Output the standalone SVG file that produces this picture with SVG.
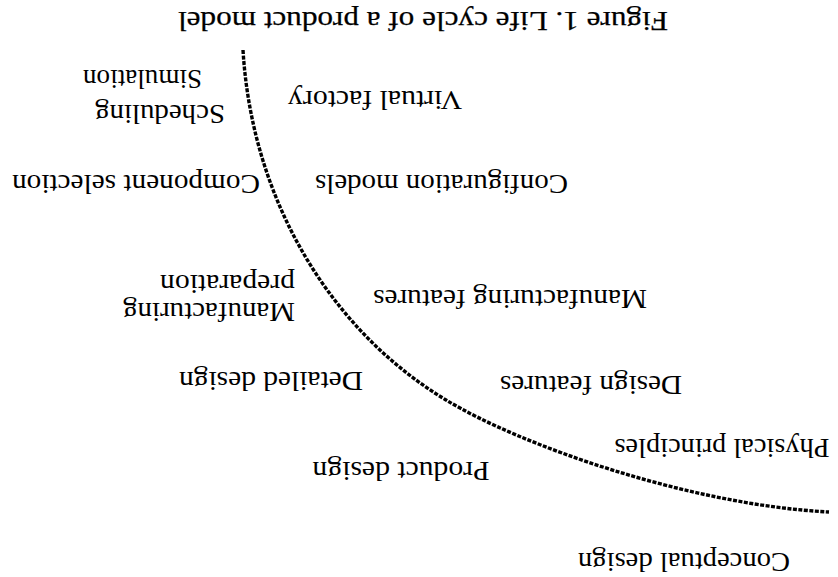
<svg xmlns="http://www.w3.org/2000/svg" width="838" height="577" viewBox="0 0 838 577">
<style>
text{font-family:"Liberation Serif","Times New Roman",serif;font-size:27px;fill:#000}
.t{font-size:27px;stroke:#000;stroke-width:0.25}
.m{text-anchor:middle}
.s{text-anchor:start}
.curve{fill:none;stroke:#000;stroke-width:3.4;stroke-dasharray:4 1.5}
</style>
<rect width="838" height="577" fill="#fff"/>
<g id="title"><text class="t m" x="423" y="12" textLength="490" lengthAdjust="spacingAndGlyphs" transform="rotate(180 423 12)">Figure 1. Life cycle of a product model</text></g>
<g id="connectors"><path class="curve" d="M243,50 C252,200 330,330 446,400 C520,445 690,505 829,512"/></g>
<g id="simulation"><text class="m" x="142.5" y="70" textLength="119" lengthAdjust="spacingAndGlyphs" transform="rotate(180 142.5 70)">Simulation</text></g>
<g id="scheduling"><text class="m" x="160" y="105" textLength="130" lengthAdjust="spacingAndGlyphs" transform="rotate(180 160 105)">Scheduling</text></g>
<g id="virtual-factory"><text class="m" x="375" y="91" textLength="174" lengthAdjust="spacingAndGlyphs" transform="rotate(180 375 91)">Virtual factory</text></g>
<g id="component-selection"><text class="m" x="136" y="175" textLength="248" lengthAdjust="spacingAndGlyphs" transform="rotate(180 136 175)">Component selection</text></g>
<g id="configuration-models"><text class="m" x="441.5" y="175" textLength="253" lengthAdjust="spacingAndGlyphs" transform="rotate(180 441.5 175)">Configuration models</text></g>
<g id="manufacturing-preparation">
<text class="s" x="295" y="275" textLength="135" lengthAdjust="spacingAndGlyphs" transform="rotate(180 295 275)">preparation</text>
<text class="s" x="295" y="303" textLength="172" lengthAdjust="spacingAndGlyphs" transform="rotate(180 295 303)">Manufacturing</text>
</g>
<g id="manufacturing-features"><text class="m" x="510" y="290" textLength="274" lengthAdjust="spacingAndGlyphs" transform="rotate(180 510 290)">Manufacturing features</text></g>
<g id="detailed-design"><text class="m" x="271" y="372" textLength="184" lengthAdjust="spacingAndGlyphs" transform="rotate(180 271 372)">Detailed design</text></g>
<g id="design-features"><text class="m" x="591" y="376" textLength="182" lengthAdjust="spacingAndGlyphs" transform="rotate(180 591 376)">Design features</text></g>
<g id="physical-principles"><text class="m" x="722" y="439" textLength="215" lengthAdjust="spacingAndGlyphs" transform="rotate(180 722 439)">Physical principles</text></g>
<g id="product-design"><text class="m" x="401" y="462" textLength="177" lengthAdjust="spacingAndGlyphs" transform="rotate(180 401 462)">Product design</text></g>
<g id="conceptual-design"><text class="m" x="684" y="553" textLength="212" lengthAdjust="spacingAndGlyphs" transform="rotate(180 684 553)">Conceptual design</text></g>
</svg>
